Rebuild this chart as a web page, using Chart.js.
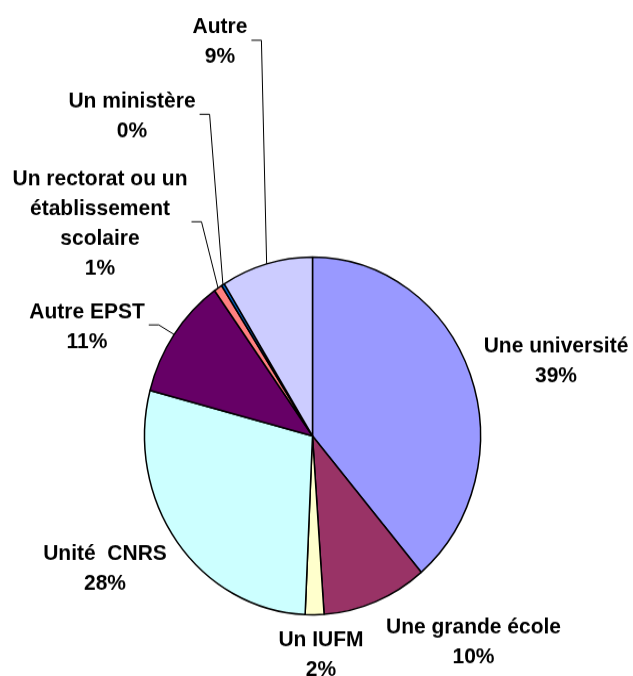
<!DOCTYPE html>
<html>
<head>
<meta charset="utf-8">
<script src="https://cdn.jsdelivr.net/npm/chart.js@4.4.0/dist/chart.umd.min.js"></script>
<style>
  html, body { margin: 0; padding: 0; background: #fff; }
  #wrap { width: 633px; height: 676px; }
</style>
</head>
<body>
<div id="wrap">
  <!-- drawn at 633x635 and shown at 633x676: the original picture is slightly stretched vertically -->
  <canvas id="pieChart" width="633" height="635" style="width:633px;height:676px;display:block"></canvas>
</div>
<script>
// categories, clockwise from 12 o'clock
const categories = [
  'Une université',
  'Une grande école',
  'Un IUFM',
  'Unité  CNRS',
  'Autre EPST',
  ['Un rectorat ou un', 'établissement', 'scolaire'],
  'Un ministère',
  'Autre'
];
// share of answers (%)
const shares = [38.8, 10.1, 1.8, 28.4, 11.0, 0.8, 0.3, 8.8];

// Excel default fill palette
const sliceColors = ['#9999FF', '#993366', '#FFFFCC', '#CCFFFF', '#660066', '#FF8080', '#0066CC', '#CCCCFF'];

// label block placement: [centre x, first baseline y] in canvas units
const labelSpots = [
  [556, 330.6], [473.5, 594.9], [321, 606.8], [105, 526],
  [87, 298.7], [100, 173.8], [132, 100.8], [220, 31.3]
];
const hasLeader = [false, false, false, false, true, true, true, true];
const LINE_H = 28;

// Draw labels outside the pie, with leader lines for the small ones
const outsideLabels = {
  id: 'outsideLabels',
  afterDatasetsDraw(chart) {
    const ctx = chart.ctx;
    const meta = chart.getDatasetMeta(0);
    const total = shares.reduce((a, b) => a + b, 0);
    ctx.save();
    ctx.font = 'bold 21px "Liberation Sans", Arial, sans-serif';
    ctx.fillStyle = '#000';
    ctx.textAlign = 'center';
    ctx.textBaseline = 'alphabetic';
    meta.data.forEach((arc, i) => {
      const name = chart.data.labels[i];
      const lines = (Array.isArray(name) ? name : [name]).concat(Math.round(shares[i] / total * 100) + '%');
      const [x, y0] = labelSpots[i];
      lines.forEach((t, j) => ctx.fillText(t, x, y0 + j * LINE_H));

      if (hasLeader[i]) {
        const w = Math.max(...lines.map(t => ctx.measureText(t).width));
        const midY = (y0 - 15 + y0 + (lines.length - 1) * LINE_H) / 2;
        const sx = x + w / 2 + 4;
        const p = arc.getProps(['x', 'y', 'startAngle', 'endAngle', 'outerRadius'], true);
        const a = (p.startAngle + p.endAngle) / 2;
        ctx.beginPath();
        ctx.moveTo(sx, midY);
        ctx.lineTo(sx + 10, midY);
        ctx.lineTo(p.x + Math.cos(a) * p.outerRadius, p.y + Math.sin(a) * p.outerRadius);
        ctx.strokeStyle = '#000';
        ctx.lineWidth = 1;
        ctx.stroke();
      }
    });
    ctx.restore();
  }
};

new Chart(document.getElementById('pieChart'), {
  type: 'pie',
  data: {
    labels: categories,
    datasets: [{
      data: shares,
      backgroundColor: sliceColors,
      borderColor: '#000',
      borderWidth: 1.5,
      radius: 168
    }]
  },
  options: {
    responsive: false,
    animation: false,
    layout: { padding: { left: 144, right: 152, top: 241, bottom: 57 } },
    plugins: {
      legend: { display: false },
      tooltip: { enabled: false }
    }
  },
  plugins: [outsideLabels]
});
</script>
</body>
</html>
